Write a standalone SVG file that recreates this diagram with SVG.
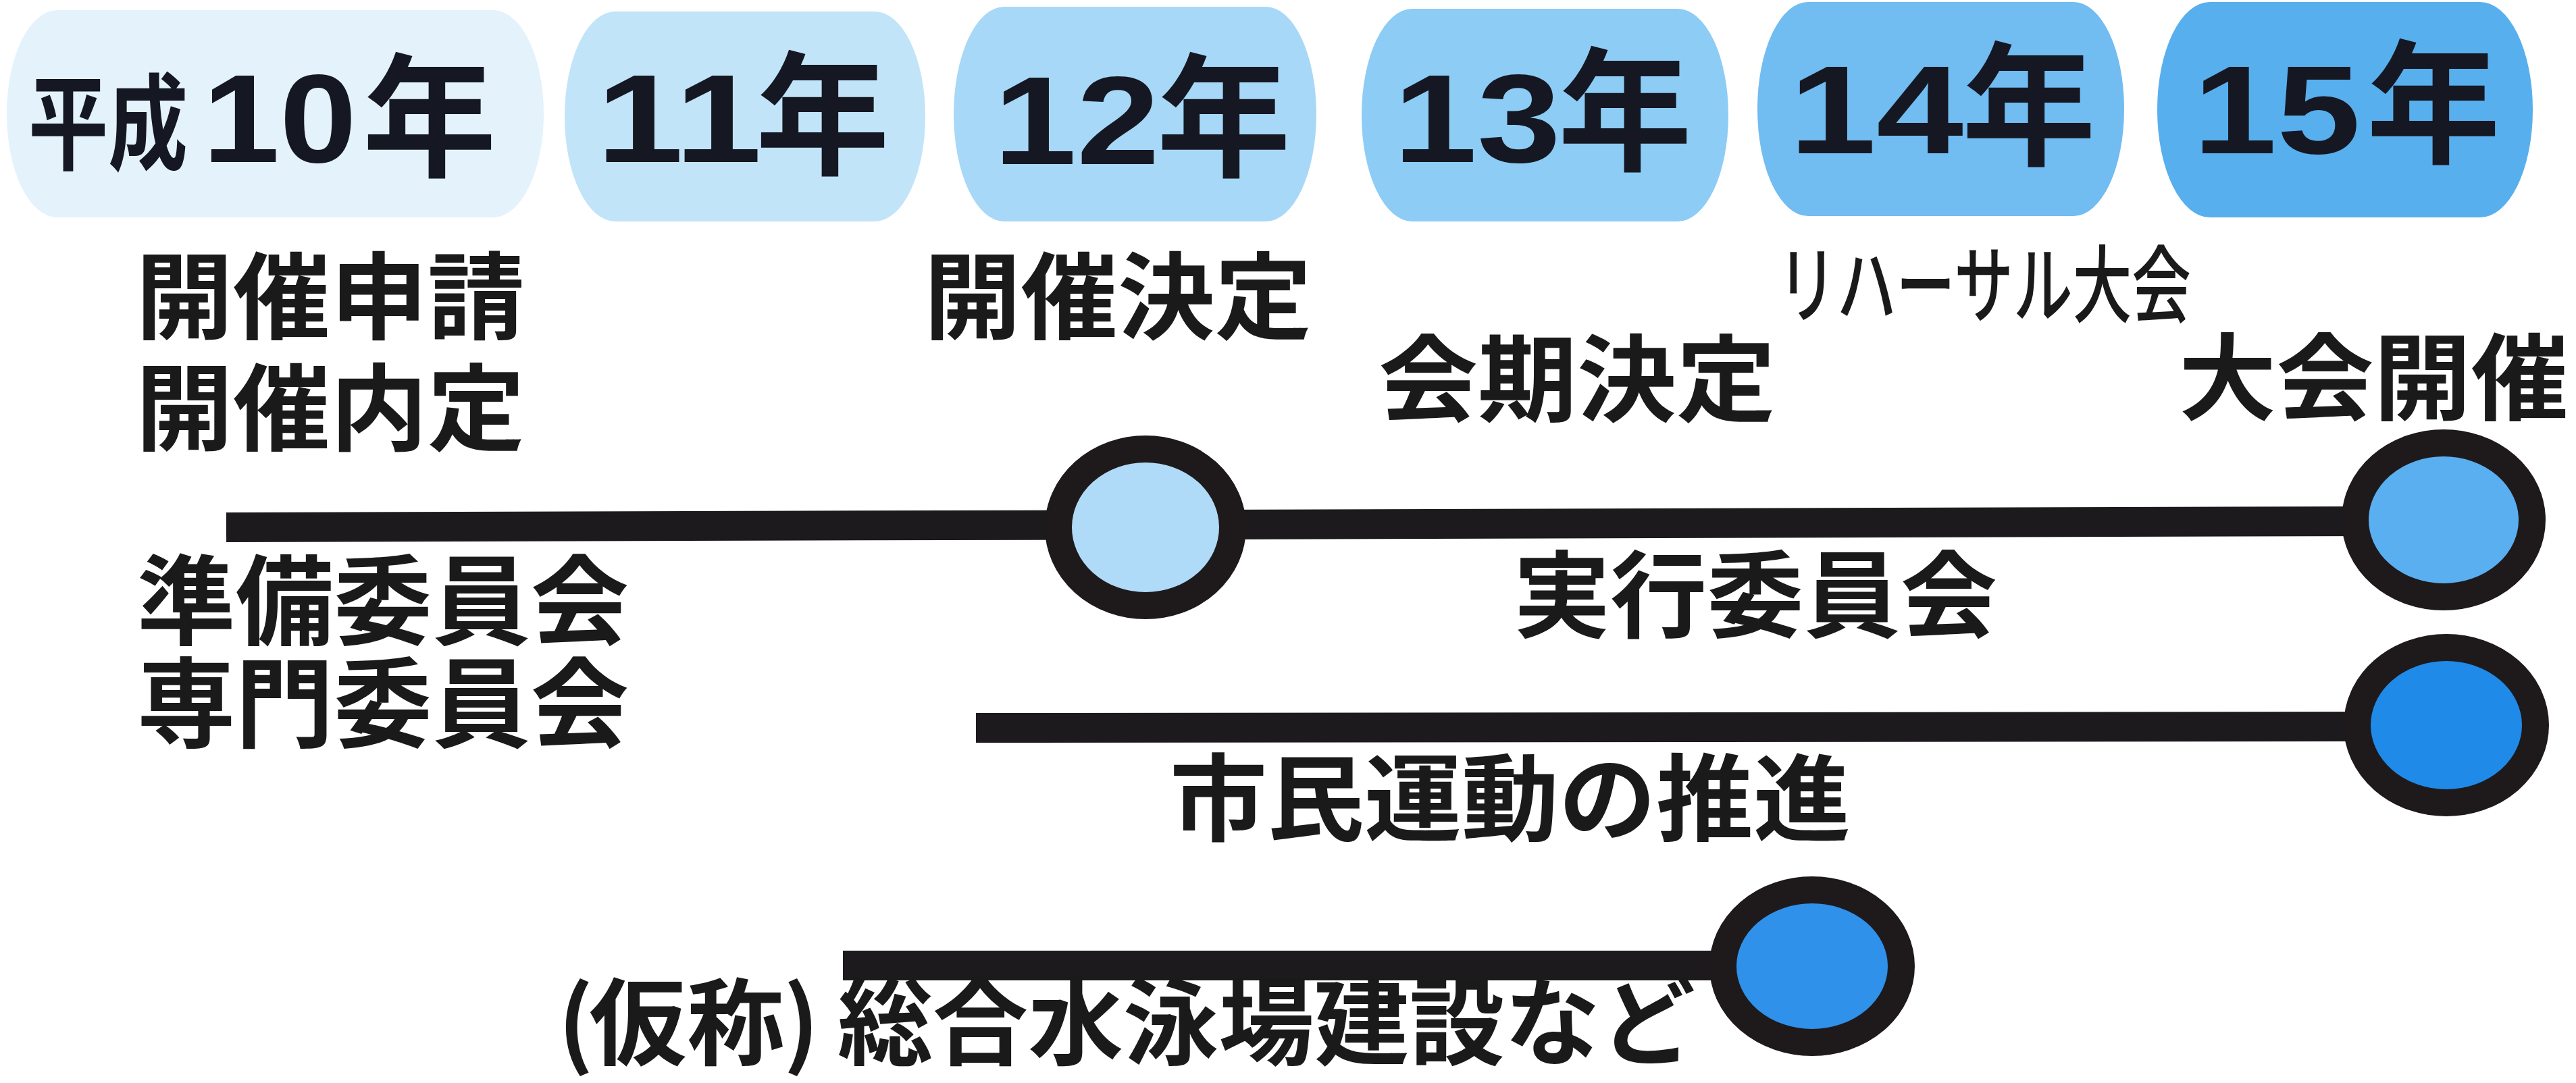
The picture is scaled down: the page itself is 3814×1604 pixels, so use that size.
<svg xmlns="http://www.w3.org/2000/svg" width="3814" height="1604" viewBox="0 0 3814 1604">
<style>
.jp{font-family:"Noto Sans CJK JP","Noto Sans CJK SC",sans-serif;fill:#1a1a1a;font-weight:bold}
.lbl{font-size:140px}
.num{font-family:"Liberation Sans","Noto Sans CJK JP",sans-serif;font-size:185px;fill:#151822;font-weight:bold}
.nen{font-family:"Noto Sans CJK JP",sans-serif;font-size:198px;fill:#151822;font-weight:bold}
.hs{font-family:"Noto Sans CJK JP",sans-serif;font-size:155px;fill:#151822;font-weight:bold}
.bar{stroke:#1c1a1c;stroke-width:44;stroke-linecap:butt;fill:none}
.ms{stroke:#1e1a1c;stroke-width:40}
</style>
<rect width="3814" height="1604" fill="#ffffff"/>

<g id="year-h10">
<rect x="10" y="15" width="795" height="307" rx="75" ry="153" fill="#e3f2fb"/>
<text class="hs" x="42" y="239" textLength="236" lengthAdjust="spacingAndGlyphs">平成</text>
<text class="num" x="300" y="240" textLength="228" lengthAdjust="spacingAndGlyphs">10</text>
<text class="nen" x="537" y="246">年</text>
</g>
<g id="year-h11">
<rect x="836" y="17" width="534" height="311" rx="75" ry="155" fill="#c2e4f9"/>
<text class="num" x="883" y="240" textLength="245" lengthAdjust="spacingAndGlyphs">11</text>
<text class="nen" x="1119" y="243">年</text>
</g>
<g id="year-h12">
<rect x="1412" y="10" width="537" height="318" rx="75" ry="159" fill="#a8d8f7"/>
<text class="num" x="1471" y="243" textLength="246" lengthAdjust="spacingAndGlyphs">12</text>
<text class="nen" x="1713" y="246">年</text>
</g>
<g id="year-h13">
<rect x="2016" y="13" width="543" height="315" rx="75" ry="157" fill="#8dccf5"/>
<text class="num" x="2063" y="240" textLength="248" lengthAdjust="spacingAndGlyphs">13</text>
<text class="nen" x="2307" y="237">年</text>
</g>
<g id="year-h14">
<rect x="2602" y="3" width="543" height="317" rx="75" ry="158" fill="#71bcf1"/>
<text class="num" x="2649" y="227" textLength="258" lengthAdjust="spacingAndGlyphs">14</text>
<text class="nen" x="2905" y="229">年</text>
</g>
<g id="year-h15">
<rect x="3194" y="3" width="556" height="319" rx="78" ry="159" fill="#58afee"/>
<text class="num" x="3247" y="227" textLength="248" lengthAdjust="spacingAndGlyphs">15</text>
<text class="nen" x="3504" y="226">年</text>
</g>

<g id="label-shinsei">
<text class="jp lbl" x="201" y="491" textLength="576" lengthAdjust="spacingAndGlyphs">開催申請</text>
<text class="jp lbl" x="201" y="656" textLength="576" lengthAdjust="spacingAndGlyphs">開催内定</text>
</g>
<g id="label-kettei">
<text class="jp lbl" x="1368" y="491" textLength="574" lengthAdjust="spacingAndGlyphs">開催決定</text>
</g>
<g id="label-rehearsal">
<text class="jp" font-size="125" font-weight="500" style="font-weight:500" x="2632" y="468" textLength="612" lengthAdjust="spacingAndGlyphs">リハーサル大会</text>
</g>
<g id="label-kaiki">
<text class="jp lbl" x="2041" y="613" textLength="588" lengthAdjust="spacingAndGlyphs">会期決定</text>
</g>
<g id="label-taikai">
<text class="jp lbl" x="3226" y="611" textLength="577" lengthAdjust="spacingAndGlyphs">大会開催</text>
</g>

<g id="connectors">
<line class="bar" x1="335" y1="781" x2="3520" y2="772"/>
<line class="bar" x1="1445" y1="1078" x2="3520" y2="1076"/>
<line class="bar" x1="1248" y1="1430" x2="2600" y2="1430"/>
</g>

<g id="label-junbi">
<text class="jp" font-size="145" x="203" y="944" textLength="728" lengthAdjust="spacingAndGlyphs">準備委員会</text>
<text class="jp" font-size="145" x="203" y="1096" textLength="728" lengthAdjust="spacingAndGlyphs">専門委員会</text>
</g>
<g id="label-jikko">
<text class="jp lbl" x="2241" y="933" textLength="716" lengthAdjust="spacingAndGlyphs">実行委員会</text>
</g>
<g id="label-shimin">
<text class="jp lbl" x="1732" y="1234" textLength="1008" lengthAdjust="spacingAndGlyphs">市民運動の推進</text>
</g>
<g id="label-suieijo">
<text class="jp lbl" y="1566"><tspan x="826">(</tspan><tspan x="872" textLength="290" lengthAdjust="spacingAndGlyphs">仮称</tspan><tspan x="1160">)</tspan><tspan x="1240" textLength="1270" lengthAdjust="spacingAndGlyphs">総合水泳場建設など</tspan></text>
</g>

<g id="milestone-kettei">
<ellipse class="ms" cx="1696" cy="781" rx="129" ry="116" fill="#b0dbf8"/>
</g>
<g id="milestone-taikai">
<ellipse class="ms" cx="3618" cy="770" rx="131" ry="114" fill="#5aaff0"/>
</g>
<g id="milestone-shimin">
<ellipse class="ms" cx="3622" cy="1074" rx="132" ry="115" fill="#1f8ae8"/>
</g>
<g id="milestone-suieijo">
<ellipse class="ms" cx="2683" cy="1431" rx="132" ry="113" fill="#2f91ea"/>
</g>
</svg>
